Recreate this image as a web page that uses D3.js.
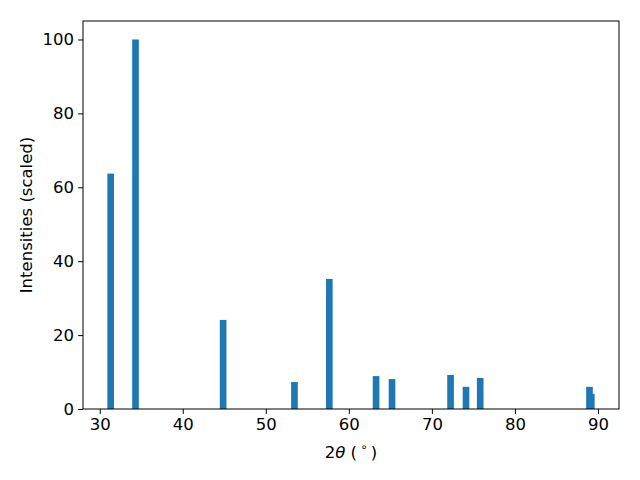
<!DOCTYPE html>
<html><head><meta charset="utf-8">
<script src="https://cdn.jsdelivr.net/npm/d3@7"></script>
<style>body{margin:0;background:#fff}text{font-family:"DejaVu Sans",sans-serif}</style>
</head><body>
<script>
const positions = [31.32, 34.31, 44.86, 53.45, 57.65, 63.28, 65.2, 72.25, 74.11, 75.82, 88.98, 89.2];
const intensities = [63.7, 100, 24.1, 7.3, 35.2, 8.9, 8.1, 9.2, 6.0, 8.4, 6.0, 4.1];
const xTicks = [30, 40, 50, 60, 70, 80, 90];
const yTicks = [0, 20, 40, 60, 80, 100];
const barWidth = 0.8;

const W = 640, H = 480;
const m = {left: 83, right: 619, top: 21, bottom: 409};
const svg = d3.select("body").append("svg").attr("width", W).attr("height", H);

const xmin = d3.min(positions) - barWidth/2, xmax = d3.max(positions) + barWidth/2;
const pad = (xmax - xmin) * 0.05;
const x = d3.scaleLinear().domain([xmin - pad, xmax + pad]).range([m.left, m.right]);
const y = d3.scaleLinear().domain([0, 105]).range([m.bottom, m.top]);

svg.append("g").selectAll("rect").data(positions).join("rect")
  .attr("x", (d) => x(d - barWidth/2))
  .attr("width", (d) => x(d + barWidth/2) - x(d - barWidth/2))
  .attr("y", (d, i) => y(intensities[i]))
  .attr("height", (d, i) => y(0) - y(intensities[i]))
  .attr("fill", "#1f77b4");

const xAxis = svg.append("g").attr("transform", `translate(0,${m.bottom})`)
  .call(d3.axisBottom(x).tickValues(xTicks).tickSize(4.9).tickPadding(4).tickFormat(d3.format("d")));
const yAxis = svg.append("g").attr("transform", `translate(${m.left},0)`)
  .call(d3.axisLeft(y).tickValues(yTicks).tickSize(4.9).tickPadding(4).tickFormat(d3.format("d")));
[xAxis, yAxis].forEach(g => {
  g.select(".domain").remove();
  g.selectAll("line").attr("stroke", "#000").attr("stroke-width", 1);
  g.selectAll("text").attr("font-size", "16.5px").attr("fill", "#000").attr("font-family", "DejaVu Sans");
});

svg.append("rect").attr("x", m.left).attr("y", m.top)
  .attr("width", m.right - m.left).attr("height", m.bottom - m.top)
  .attr("fill", "none").attr("stroke", "#000").attr("stroke-width", 1);

const xl = svg.append("text").attr("x", (m.left + m.right)/2).attr("y", 458)
  .attr("text-anchor", "middle").attr("font-size", "16.5px").attr("fill", "#000")
  .attr("xml:space", "preserve");
xl.append("tspan").text("2");
xl.append("tspan").attr("font-style", "italic").text("θ");
xl.append("tspan").text(" (\u2009");
xl.append("tspan").attr("font-size", "11.5px").attr("dy", "-7").text("∘");
xl.append("tspan").attr("dy", "7").text("\u2009)");

svg.append("text").attr("transform", `translate(32,${(m.top + m.bottom)/2}) rotate(-90)`)
  .attr("text-anchor", "middle").attr("font-size", "16.5px").attr("fill", "#000")
  .text("Intensities (scaled)");
</script>
</body></html>
